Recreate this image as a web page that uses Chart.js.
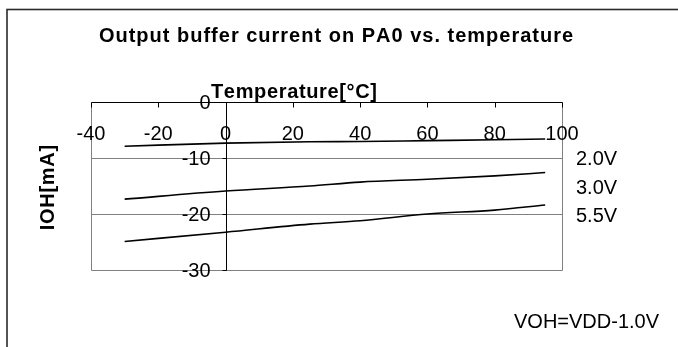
<!DOCTYPE html>
<html>
<head>
<meta charset="utf-8">
<script src="https://cdn.jsdelivr.net/npm/chart.js@4/dist/chart.umd.min.js"></script>
<style>
  html, body { margin: 0; padding: 0; background: #fff; overflow: hidden; }
  canvas { display: block; }
</style>
</head>
<body>
<canvas id="c" width="678" height="347"></canvas>
<script>
// Temperature sweep (°C) and output high current (mA) per supply voltage
const temps = [-30, 0, 25, 40, 60, 80, 95];
const ioh20 = [-7.9, -7.35, -7.1, -7.05, -6.9, -6.75, -6.6];
const ioh30 = [-17.35, -15.9, -15.0, -14.3, -13.8, -13.2, -12.6];
const ioh55 = [-24.9, -23.25, -21.8, -21.2, -20.0, -19.3, -18.4];
const seriesLabels = ['2.0V', '3.0V', '5.5V'];

// Axis ticks
const xTicks = [-40, -20, 0, 20, 40, 60, 80, 100];
const yTicks = [0, -10, -20, -30];

const titleText = 'Output buffer current on PA0 vs. temperature';
const xTitle = 'Temperature[°C]';
const yTitle = 'IOH[mA]';
const noteText = 'VOH=VDD-1.0V';

const FONT = '"Liberation Sans", Arial, sans-serif';

function toPoints(ys) {
  return temps.map((t, i) => ({ x: t, y: ys[i] }));
}

// Draws text one glyph at a time with extra tracking, centred on cx
function spacedText(ctx, str, cx, y, spacing) {
  const widths = [...str].map(ch => ctx.measureText(ch).width);
  const total = widths.reduce((a, b) => a + b, 0) + spacing * (widths.length - 1);
  let x = cx - total / 2;
  ctx.textAlign = 'left';
  [...str].forEach((ch, i) => {
    ctx.fillText(ch, x, y);
    x += widths[i] + spacing;
  });
}

const framePlugin = {
  id: 'frame',
  beforeDatasetsDraw(chart) {
    const { ctx, chartArea: a, scales: { x, y } } = chart;
    ctx.save();
    // outer frame
    ctx.strokeStyle = '#2a2a2a';
    ctx.lineWidth = 1.6;
    ctx.strokeRect(7, 9.5, 720, 400);

    // horizontal grid lines
    ctx.strokeStyle = '#808080';
    ctx.lineWidth = 1;
    yTicks.forEach(v => {
      if (v === 0 || v === -30) return;
      const py = Math.round(y.getPixelForValue(v)) + 0.5;
      ctx.beginPath();
      ctx.moveTo(a.left, py);
      ctx.lineTo(a.right, py);
      ctx.stroke();
    });

    // plot border (left, right, bottom)
    const L = Math.round(a.left) + 0.5, R = Math.round(a.right) + 0.5;
    const T = Math.round(a.top) + 0.5, B = Math.round(a.bottom) + 0.5;
    ctx.beginPath();
    ctx.moveTo(L, T); ctx.lineTo(L, B); ctx.lineTo(R, B); ctx.lineTo(R, T);
    ctx.stroke();

    // horizontal axis along the top, vertical axis at 0 °C
    ctx.strokeStyle = '#000';
    ctx.beginPath();
    ctx.moveTo(L, T); ctx.lineTo(R, T);
    const x0 = Math.round(x.getPixelForValue(0)) + 0.5;
    ctx.moveTo(x0, T); ctx.lineTo(x0, B);
    // tick marks
    xTicks.forEach(v => {
      const px = Math.round(x.getPixelForValue(v)) + 0.5;
      ctx.moveTo(px, T); ctx.lineTo(px, T + 5);
    });
    yTicks.forEach(v => {
      const py = Math.round(y.getPixelForValue(v)) + 0.5;
      ctx.moveTo(x0 - 4, py); ctx.lineTo(x0, py);
    });
    ctx.stroke();
    ctx.restore();
  },
  afterDatasetsDraw(chart) {
    const { ctx, chartArea: a, scales: { x, y } } = chart;
    ctx.save();
    ctx.fillStyle = '#000';
    ctx.textBaseline = 'alphabetic';

    // tick labels
    ctx.font = '20px ' + FONT;
    ctx.textAlign = 'center';
    xTicks.forEach(v => {
      ctx.fillText(String(v), x.getPixelForValue(v), a.top + 38);
    });
    ctx.textAlign = 'right';
    const x0 = x.getPixelForValue(0);
    yTicks.forEach(v => {
      ctx.fillText(String(v), x0 - 15, y.getPixelForValue(v) + 7);
    });

    // series labels at the right of the plot
    ctx.textAlign = 'left';
    const labelY = [165, 194, 222];
    seriesLabels.forEach((s, i) => ctx.fillText(s, a.right + 14, labelY[i]));

    // test condition note
    ctx.fillText(noteText, 514, 328);

    // titles
    ctx.font = 'bold 20px ' + FONT;
    spacedText(ctx, titleText, 336, 42, 1.0);
    spacedText(ctx, xTitle, 294, 98, 0.65);
    ctx.save();
    ctx.translate(54, 187.5);
    ctx.rotate(-Math.PI / 2);
    spacedText(ctx, yTitle, 0, 0, 0.7);
    ctx.restore();

    ctx.restore();
  }
};

const lineStyle = {
  borderColor: '#000',
  borderWidth: 1.6,
  pointRadius: 0,
  fill: false,
  cubicInterpolationMode: 'monotone'
};

new Chart(document.getElementById('c'), {
  type: 'line',
  data: {
    datasets: [
      { label: seriesLabels[0], data: toPoints(ioh20), ...lineStyle },
      { label: seriesLabels[1], data: toPoints(ioh30), ...lineStyle },
      { label: seriesLabels[2], data: toPoints(ioh55), ...lineStyle }
    ]
  },
  options: {
    responsive: false,
    animation: false,
    devicePixelRatio: 1,
    layout: { padding: { left: 91, top: 102, right: 116, bottom: 77 } },
    plugins: { legend: { display: false }, tooltip: { enabled: false } },
    scales: {
      x: { type: 'linear', min: -40, max: 100, display: false },
      y: { type: 'linear', min: -30, max: 0, display: false }
    }
  },
  plugins: [framePlugin]
});
</script>
</body>
</html>
